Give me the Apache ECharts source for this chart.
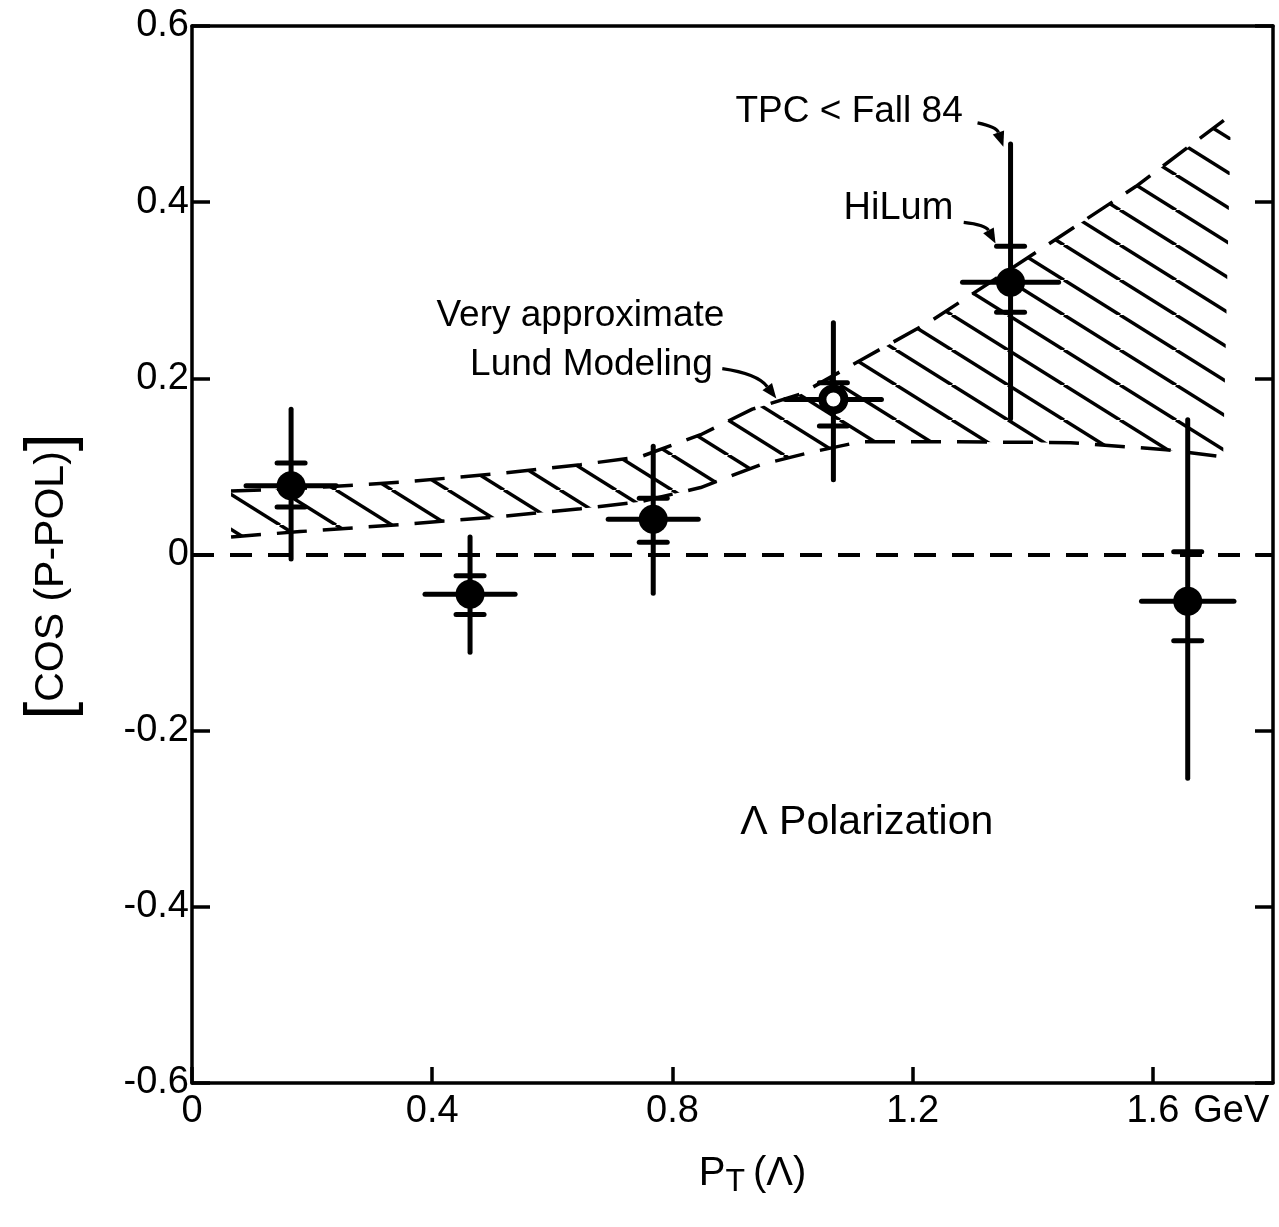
<!DOCTYPE html>
<html>
<head>
<meta charset="utf-8">
<script src="https://cdn.jsdelivr.net/npm/echarts@6/dist/echarts.min.js"></script>
<style>
  html, body { margin: 0; padding: 0; background: #fff; }
  #chart { width: 1279px; height: 1227px; }
</style>
</head>
<body>
<div id="chart"></div>
<script>
const FONT = '"Liberation Sans", Arial, sans-serif';

// Lambda polarization measurements vs transverse momentum
const ptX      = [0.165, 0.463, 0.768, 1.068, 1.363, 1.658];
const ptY      = [0.078, -0.045, 0.040, 0.176, 0.309, -0.053];
const ptXErr   = [0.075, 0.075, 0.075, 0.080, 0.080, 0.077];
// full data sample (TPC < Fall 84)
const errHi    = [0.165, 0.020, 0.123, 0.263, 0.466, 0.153];
const errLo    = [-0.005, -0.111, -0.044, 0.085, 0.154, -0.254];
// HiLum sample
const hiLumHi  = [0.104, -0.024, 0.064, 0.195, 0.350, 0.003];
const hiLumLo  = [0.054, -0.068, 0.014, 0.146, 0.275, -0.098];
const openPoint = [false, false, false, true, false, false];

// Lund model band (upper and lower edges)
const lundUpperX = [0.065, 0.18, 0.347, 0.497, 0.647, 0.747, 0.847, 0.933, 1.013, 1.117, 1.228, 1.403, 1.572, 1.73];
const lundUpperY = [0.072, 0.075, 0.082, 0.091, 0.102, 0.111, 0.136, 0.165, 0.182, 0.222, 0.264, 0.342, 0.418, 0.499];
const lundLowerX = [0.065, 0.18, 0.347, 0.497, 0.647, 0.747, 0.847, 0.947, 1.03, 1.113, 1.263, 1.463, 1.622, 1.717];
const lundLowerY = [0.020, 0.026, 0.034, 0.042, 0.052, 0.060, 0.076, 0.102, 0.116, 0.128, 0.128, 0.127, 0.119, 0.111];

// axis ticks
const xTicks = { min: 0, max: 1.8, step: 0.4 };
const yTicks = { min: -0.6, max: 0.6, step: 0.2 };

// diagonal hatch tile for the model band
function makeHatch(w, h, lw) {
  const c = document.createElement('canvas');
  c.width = w; c.height = h;
  const g = c.getContext('2d');
  g.strokeStyle = '#000';
  g.lineWidth = lw;
  for (const off of [-w, 0, w]) {
    g.beginPath();
    g.moveTo(off, 0);
    g.lineTo(off + w, h);
    g.stroke();
  }
  return c;
}
const hatch = { image: makeHatch(56, 35, 3.5), repeat: 'repeat' };

const chart = echarts.init(document.getElementById('chart'), null, { renderer: 'canvas' });

const axisLine = { show: true, onZero: false, lineStyle: { color: '#000', width: 3.5 } };
const labelStyle = { color: '#000', fontFamily: FONT, fontSize: 38 };

const errData = ptX.map((x, i) => [x, ptY[i], ptXErr[i], errHi[i], errLo[i], hiLumHi[i], hiLumLo[i]]);
const pointData = ptX.map((x, i) => openPoint[i]
  ? { value: [x, ptY[i]], symbolSize: 22, itemStyle: { color: '#fff', borderColor: '#000', borderWidth: 8 } }
  : { value: [x, ptY[i]] });

const option = {
  animation: false,
  backgroundColor: '#fff',
  grid: { left: 192, right: 6, top: 26, bottom: 144, outerBoundsMode: 'none' },
  xAxis: [{
    type: 'value', min: xTicks.min, max: xTicks.max, interval: xTicks.step,
    axisLine: axisLine,
    axisTick: { show: true, inside: true, length: 16, lineStyle: { color: '#000', width: 3.5 } },
    splitLine: { show: false },
    axisLabel: Object.assign({}, labelStyle, {
      margin: 10,
      showMaxLabel: false,
      formatter: v => {
        const r = Math.round(v * 10) / 10;
        if (r === 0) return '0';
        if (Math.abs(r - 1.6) < 1e-6) return '{pad|}{v|1.6}{u|GeV}';
        if (r > 1.65) return '';
        return r.toFixed(1);
      },
      rich: {
        pad: { width: 90 },
        v: { fontSize: 38, fontFamily: FONT, color: '#000' },
        u: { fontSize: 38, fontFamily: FONT, color: '#000', padding: [0, 0, 0, 14] }
      }
    }),
    name: '{p|P}{s|T}{n|(Λ)}',
    nameLocation: 'middle',
    nameGap: 66,
    nameTextStyle: {
      padding: [0, 0, 0, 40],
      rich: {
        p: { fontSize: 40, fontFamily: FONT, color: '#000', verticalAlign: 'top', lineHeight: 44 },
        s: { fontSize: 32, fontFamily: FONT, color: '#000', verticalAlign: 'bottom', lineHeight: 40, padding: [30, 8, 0, 0] },
        n: { fontSize: 40, fontFamily: FONT, color: '#000', verticalAlign: 'top', lineHeight: 44 }
      }
    }
  }, {
    type: 'value', position: 'top', min: xTicks.min, max: xTicks.max, interval: xTicks.step,
    axisLine: axisLine, axisTick: { show: false }, axisLabel: { show: false }, splitLine: { show: false }
  }],
  yAxis: [{
    type: 'value', min: yTicks.min, max: yTicks.max, interval: yTicks.step,
    axisLine: axisLine,
    axisTick: { show: true, inside: true, length: 18, lineStyle: { color: '#000', width: 3.5 } },
    splitLine: { show: false },
    axisLabel: Object.assign({}, labelStyle, {
      margin: 3,
      formatter: v => {
        const r = Math.round(v * 10) / 10;
        if (r === 0) return '0';
        return (r < 0 ? '-' : '') + Math.abs(r).toFixed(1);
      }
    }),
    name: '{b|[}{t|COS (P-POL)}{b|]}',
    nameLocation: 'middle',
    nameRotate: 90,
    nameGap: 108,
    nameTextStyle: {
      padding: [0, 44, 0, 0],
      rich: {
        b: { fontSize: 64, fontFamily: FONT, color: '#000' },
        t: { fontSize: 41, fontFamily: FONT, color: '#000' }
      }
    }
  }, {
    type: 'value', position: 'right', min: yTicks.min, max: yTicks.max, interval: yTicks.step,
    axisLine: axisLine,
    axisTick: { show: true, inside: true, length: 18, lineStyle: { color: '#000', width: 3.5 } },
    axisLabel: { show: false }, splitLine: { show: false }
  }],
  series: [
    {
      name: 'Lund band',
      type: 'custom',
      z: 1,
      data: [[lundUpperX[0], lundUpperY[0]]],
      renderItem: (params, api) => {
        const pts = [];
        for (let i = 0; i < lundUpperX.length; i++) pts.push(api.coord([lundUpperX[i], lundUpperY[i]]));
        for (let i = lundLowerX.length - 1; i >= 0; i--) pts.push(api.coord([lundLowerX[i], lundLowerY[i]]));
        return { type: 'polygon', shape: { points: pts }, style: { fill: hatch, stroke: null } };
      }
    },
    {
      name: 'Lund upper', type: 'line', z: 2, showSymbol: false, symbol: 'none',
      data: lundUpperX.map((x, i) => [x, lundUpperY[i]]),
      lineStyle: { color: '#000', width: 3.5, type: [30, 16] }
    },
    {
      name: 'Lund lower', type: 'line', z: 2, showSymbol: false, symbol: 'none',
      data: lundLowerX.map((x, i) => [x, lundLowerY[i]]),
      lineStyle: { color: '#000', width: 3.5, type: [30, 16] }
    },
    {
      name: 'Error bars',
      type: 'custom',
      z: 3,
      data: errData,
      renderItem: (params, api) => {
        const x = api.value(0), y = api.value(1), dx = api.value(2);
        const pHi = api.coord([x, api.value(3)]);
        const pLo = api.coord([x, api.value(4)]);
        const pIHi = api.coord([x, api.value(5)]);
        const pILo = api.coord([x, api.value(6)]);
        const pL = api.coord([x - dx, y]);
        const pR = api.coord([x + dx, y]);
        const cap = 14;
        const st = { stroke: '#000', lineWidth: 5, lineCap: 'round' };
        return {
          type: 'group',
          children: [
            { type: 'line', shape: { x1: pHi[0], y1: pHi[1], x2: pLo[0], y2: pLo[1] }, style: st },
            { type: 'line', shape: { x1: pL[0], y1: pL[1], x2: pR[0], y2: pR[1] }, style: st },
            { type: 'line', shape: { x1: pIHi[0] - cap, y1: pIHi[1], x2: pIHi[0] + cap, y2: pIHi[1] }, style: st },
            { type: 'line', shape: { x1: pILo[0] - cap, y1: pILo[1], x2: pILo[0] + cap, y2: pILo[1] }, style: st }
          ]
        };
      },
      markLine: {
        silent: true,
        symbol: 'none',
        label: { show: false },
        lineStyle: { color: '#000', width: 4, type: [22, 16] },
        data: [{ yAxis: 0 }]
      }
    },
    {
      name: 'Polarization',
      type: 'scatter',
      z: 4,
      symbol: 'circle',
      symbolSize: 29,
      itemStyle: { color: '#000', opacity: 1 },
      data: pointData
    }
  ]
};

chart.setOption(option);

// annotations placed in data units
const toPx = p => chart.convertToPixel({ gridIndex: 0 }, p);

function textEl(str, at, size) {
  const p = toPx(at);
  return {
    type: 'text', z: 10,
    style: { text: str, x: p[0], y: p[1], fill: '#000', fontSize: size, fontFamily: FONT, align: 'left', verticalAlign: 'middle' }
  };
}

function arrowEls(from, to, bend) {
  const a = toPx(from), b = toPx(to);
  const cx = (a[0] + b[0]) / 2 + bend[0], cy = (a[1] + b[1]) / 2 + bend[1];
  const dxv = b[0] - cx, dyv = b[1] - cy;
  const len = Math.hypot(dxv, dyv) || 1;
  const ux = dxv / len, uy = dyv / len;
  const hl = 15, hw = 6;
  const bx = b[0] - ux * hl, by = b[1] - uy * hl;
  return [
    { type: 'bezierCurve', z: 10,
      shape: { x1: a[0], y1: a[1], x2: bx, y2: by, cpx1: cx, cpy1: cy },
      style: { stroke: '#000', lineWidth: 3.2, fill: null } },
    { type: 'polygon', z: 10,
      shape: { points: [[b[0], b[1]], [bx - uy * hw, by + ux * hw], [bx + uy * hw, by - ux * hw]] },
      style: { fill: '#000' } }
  ];
}

chart.setOption({
  graphic: [
    textEl('TPC < Fall 84', [0.905, 0.503], 37),
    textEl('HiLum', [1.085, 0.393], 38),
    textEl('Very approximate', [0.407, 0.271], 37),
    textEl('Lund Modeling', [0.463, 0.215], 37),
    textEl('Λ Polarization', [0.913, -0.304], 41),
    ...arrowEls([1.308, 0.490], [ptX[4] - 0.012, errHi[4] - 0.003], [6, -8]),
    ...arrowEls([1.285, 0.377], [ptX[4] - 0.025, hiLumHi[4] + 0.003], [6, -8]),
    ...arrowEls([0.883, 0.211], [0.973, 0.177], [8, -10])
  ]
});
</script>
</body>
</html>
